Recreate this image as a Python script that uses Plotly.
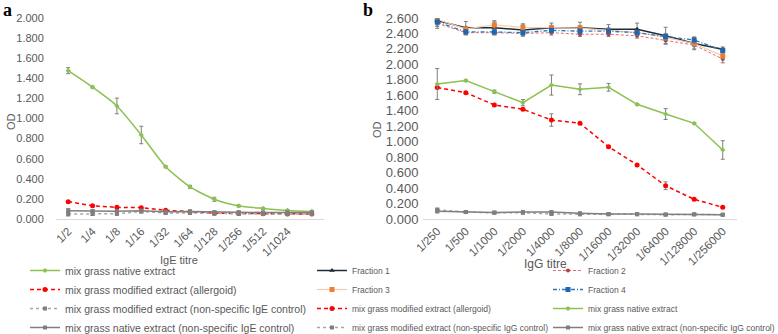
import plotly.graph_objects as go

# ---------------- data ----------------
ige_titres = ["1/2", "1/4", "1/8", "1/16", "1/32", "1/64", "1/128", "1/256", "1/512", "1/1024", ""]
a_native = [1.476, 1.312, 1.125, 0.836, 0.520, 0.320, 0.196, 0.130, 0.105, 0.085, 0.075]
a_native_err = [0.03, 0.01, 0.078, 0.087, 0.01, 0.015, 0.02, 0.01, 0.01, 0.01, 0.01]
a_allergoid = [0.172, 0.132, 0.116, 0.113, 0.087, 0.070, 0.058, 0.055, 0.052, 0.050, 0.050]
a_mod_nonspec = [0.050, 0.050, 0.052, 0.075, 0.060, 0.060, 0.055, 0.052, 0.050, 0.050, 0.050]
a_nat_nonspec = [0.083, 0.078, 0.078, 0.082, 0.072, 0.075, 0.068, 0.068, 0.065, 0.065, 0.065]
a_ctrl_err = [0.02, 0.015, 0.015, 0.015, 0.015, 0.015, 0.012, 0.012, 0.012, 0.012, 0.012]

igg_titres = ["1/250", "1/500", "1/1000", "1/2000", "1/4000", "1/8000", "1/16000",
              "1/32000", "1/64000", "1/128000", "1/256000"]
b_frac1 = [2.566, 2.475, 2.475, 2.445, 2.475, 2.475, 2.454, 2.454, 2.370, 2.270, 2.195]
b_frac1_err = [0.10, 0.08, 0.09, 0.08, 0.06, 0.07, 0.06, 0.08, 0.11, 0.08, 0.03]
b_frac2 = [2.530, 2.410, 2.410, 2.400, 2.410, 2.390, 2.390, 2.370, 2.310, 2.250, 2.070]
b_frac2_err = [0.04, 0.03, 0.03, 0.03, 0.03, 0.03, 0.03, 0.03, 0.04, 0.05, 0.05]
b_frac3 = [2.580, 2.460, 2.510, 2.480, 2.475, 2.470, 2.440, 2.410, 2.350, 2.270, 2.110]
b_frac3_err = [0.05, 0.03, 0.04, 0.03, 0.03, 0.03, 0.03, 0.03, 0.04, 0.04, 0.04]
b_frac4 = [2.550, 2.420, 2.420, 2.410, 2.440, 2.430, 2.430, 2.410, 2.360, 2.315, 2.180]
b_frac4_err = [0.04, 0.03, 0.03, 0.03, 0.03, 0.03, 0.03, 0.03, 0.04, 0.04, 0.03]
b_allergoid = [1.700, 1.634, 1.475, 1.420, 1.280, 1.238, 0.935, 0.700, 0.430, 0.255, 0.151]
b_allergoid_err = [0.01, 0.01, 0.02, 0.01, 0.08, 0.01, 0.01, 0.01, 0.05, 0.01, 0.01]
b_native = [1.746, 1.790, 1.647, 1.505, 1.733, 1.678, 1.704, 1.484, 1.358, 1.238, 0.893]
b_native_err = [0.20, 0.01, 0.02, 0.04, 0.13, 0.07, 0.05, 0.01, 0.07, 0.01, 0.12]
b_mod_nonspec = [0.120, 0.090, 0.080, 0.080, 0.065, 0.060, 0.060, 0.060, 0.055, 0.060, 0.055]
b_nat_nonspec = [0.100, 0.090, 0.085, 0.090, 0.090, 0.075, 0.065, 0.065, 0.060, 0.060, 0.055]
b_ctrl_err = [0.02, 0.01, 0.01, 0.01, 0.01, 0.01, 0.01, 0.01, 0.01, 0.01, 0.01]

# ---------------- styles ----------------
W, H = 778, 334
GREEN = "#8CC152"
RED = "#FF0000"
GRAY = "#7F7F7F"
LGRAY = "#A6A6A6"
TXT = "#595959"
FONT = "Liberation Sans"
RED_DASH = "4px,3px"
GRAY_DASH = "3px,3px"

xa = list(range(len(ige_titres)))
xb = list(range(len(igg_titres)))


def err(vals):
    return dict(type="data", array=vals, visible=True, color=GRAY, thickness=1, width=2)


fig = go.Figure()

# ---- panel a ----
fig.add_trace(go.Scatter(x=xa, y=a_native, name="mix grass native extract", mode="lines+markers",
                         line=dict(color=GREEN, width=1.5, shape="spline", smoothing=0.6),
                         marker=dict(symbol="diamond", size=4, color=GREEN),
                         error_y=err(a_native_err), xaxis="x", yaxis="y", legend="legend"))
fig.add_trace(go.Scatter(x=xa, y=a_allergoid, name="mix grass modified extract (allergoid)",
                         mode="lines+markers",
                         line=dict(color=RED, width=1.5, dash=RED_DASH),
                         marker=dict(symbol="circle", size=5, color=RED),
                         xaxis="x", yaxis="y", legend="legend"))
fig.add_trace(go.Scatter(x=xa, y=a_mod_nonspec, name="mix grass modified extract (non-specific IgE control)",
                         mode="lines+markers",
                         line=dict(color=LGRAY, width=1.5, dash=GRAY_DASH),
                         marker=dict(symbol="square", size=4, color=GRAY),
                         error_y=err(a_ctrl_err), xaxis="x", yaxis="y", legend="legend"))
fig.add_trace(go.Scatter(x=xa, y=a_nat_nonspec, name="mix grass native extract (non-specific IgE control)",
                         mode="lines+markers",
                         line=dict(color=GRAY, width=1.5),
                         marker=dict(symbol="square", size=4, color=GRAY),
                         error_y=err(a_ctrl_err), xaxis="x", yaxis="y", legend="legend"))

# ---- panel b ----
fig.add_trace(go.Scatter(x=xb, y=b_frac1, name="Fraction 1", mode="lines+markers",
                         line=dict(color="#1E2B38", width=1.5),
                         marker=dict(symbol="triangle-up", size=5, color="#1E2B38"),
                         error_y=err(b_frac1_err), xaxis="x2", yaxis="y2", legend="legend2"))
fig.add_trace(go.Scatter(x=xb, y=b_frac2, name="Fraction 2", mode="lines+markers",
                         line=dict(color="#E07070", width=1, dash="3px,2px"),
                         marker=dict(symbol="circle", size=4, color="#B04040"),
                         error_y=err(b_frac2_err), xaxis="x2", yaxis="y2", legend="legend3"))
fig.add_trace(go.Scatter(x=xb, y=b_frac3, name="Fraction 3", mode="lines+markers",
                         line=dict(color="#F8CBAD", width=1.2),
                         marker=dict(symbol="square", size=5, color="#ED7D31"),
                         error_y=err(b_frac3_err), xaxis="x2", yaxis="y2", legend="legend2"))
fig.add_trace(go.Scatter(x=xb, y=b_frac4, name="Fraction 4", mode="lines+markers",
                         line=dict(color="#2E75B6", width=1.3, dash="4px,2px,1px,2px"),
                         marker=dict(symbol="square", size=5, color="#1F66B0"),
                         error_y=err(b_frac4_err), xaxis="x2", yaxis="y2", legend="legend3"))
fig.add_trace(go.Scatter(x=xb, y=b_allergoid, name="mix grass modified extract (allergoid)",
                         mode="lines+markers",
                         line=dict(color=RED, width=1.5, dash=RED_DASH),
                         marker=dict(symbol="circle", size=5, color=RED),
                         error_y=err(b_allergoid_err), xaxis="x2", yaxis="y2", legend="legend2"))
fig.add_trace(go.Scatter(x=xb, y=b_native, name="mix grass native extract", mode="lines+markers",
                         line=dict(color=GREEN, width=1.5),
                         marker=dict(symbol="diamond", size=4, color=GREEN),
                         error_y=err(b_native_err), xaxis="x2", yaxis="y2", legend="legend3"))
fig.add_trace(go.Scatter(x=xb, y=b_mod_nonspec, name="mix grass modified extract (non-specific IgG control)",
                         mode="lines+markers",
                         line=dict(color=LGRAY, width=1.5, dash=GRAY_DASH),
                         marker=dict(symbol="square", size=4, color=GRAY),
                         error_y=err(b_ctrl_err), xaxis="x2", yaxis="y2", legend="legend2"))
fig.add_trace(go.Scatter(x=xb, y=b_nat_nonspec, name="mix grass native extract (non-specific IgG control)",
                         mode="lines+markers",
                         line=dict(color=GRAY, width=1.5),
                         marker=dict(symbol="square", size=4, color=GRAY),
                         error_y=err(b_ctrl_err), xaxis="x2", yaxis="y2", legend="legend3"))


def px_x(p):
    return p / W


def px_y(p):
    return (H - p) / H


ydom = [px_y(219), px_y(18)]
xaxis_common = dict(showgrid=False, zeroline=False, showline=True, linecolor="#D9D9D9", linewidth=1,
                    ticks="", tickangle=-45, tickfont=dict(family=FONT, size=11.5, color=TXT))
LEG_TOP = 256


def label(text, x, y, size, angle=0, family=FONT, color=TXT, weight="normal"):
    return dict(text=text, x=px_x(x), y=px_y(y), xref="paper", yref="paper", xanchor="center",
                yanchor="middle", textangle=angle, showarrow=False,
                font=dict(family=family, size=size, color=color, weight=weight))


fig.update_layout(
    width=W, height=H,
    margin=dict(l=0, r=0, t=0, b=0, autoexpand=False),
    paper_bgcolor="white", plot_bgcolor="white",
    font=dict(family=FONT, color=TXT),
    xaxis=dict(domain=[px_x(56), px_x(324)], range=[-0.5, len(ige_titres) - 0.5],
               tickvals=xa, ticktext=ige_titres, anchor="y", **xaxis_common),
    yaxis=dict(domain=ydom, range=[0, 2.0], dtick=0.2, tickformat=".3f", showgrid=False,
               zeroline=False, showline=False, ticks="outside", ticklen=9, tickcolor="rgba(0,0,0,0)",
               tickfont=dict(family=FONT, size=11, color=TXT), anchor="x"),
    xaxis2=dict(domain=[px_x(423), px_x(737)], range=[-0.5, len(igg_titres) - 0.5],
                tickvals=xb, ticktext=igg_titres, anchor="y2", **xaxis_common),
    yaxis2=dict(domain=ydom, range=[0, 2.6], dtick=0.2, tickformat=".3f", showgrid=False,
                zeroline=False, showline=False, ticks="outside", ticklen=1, tickcolor="rgba(0,0,0,0)",
                tickfont=dict(family=FONT, size=13, color=TXT), anchor="x2"),
    legend=dict(x=px_x(25), y=px_y(LEG_TOP), xanchor="left", yanchor="top", bgcolor="rgba(0,0,0,0)",
                font=dict(family=FONT, size=10.5, color=TXT), orientation="v"),
    legend2=dict(x=px_x(312), y=px_y(LEG_TOP), xanchor="left", yanchor="top", bgcolor="rgba(0,0,0,0)",
                 font=dict(family=FONT, size=8.5, color=TXT), orientation="v"),
    legend3=dict(x=px_x(548), y=px_y(LEG_TOP), xanchor="left", yanchor="top", bgcolor="rgba(0,0,0,0)",
                 font=dict(family=FONT, size=8.5, color=TXT), orientation="v"),
    annotations=[
        label("a", 8, 10, 18, family="Liberation Serif", color="black", weight="bold"),
        label("b", 368, 10, 18, family="Liberation Serif", color="black", weight="bold"),
        label("OD", 11, 122, 11, angle=-90),
        label("OD", 377, 130, 11, angle=-90),
        label("IgE titre", 179, 260, 11),
        label("IgG titre", 545, 264, 12),
    ],
)

fig.write_html("out.html", config={"displayModeBar": False},
               post_script="document.body.style.margin='0';document.body.style.overflow='hidden';")
